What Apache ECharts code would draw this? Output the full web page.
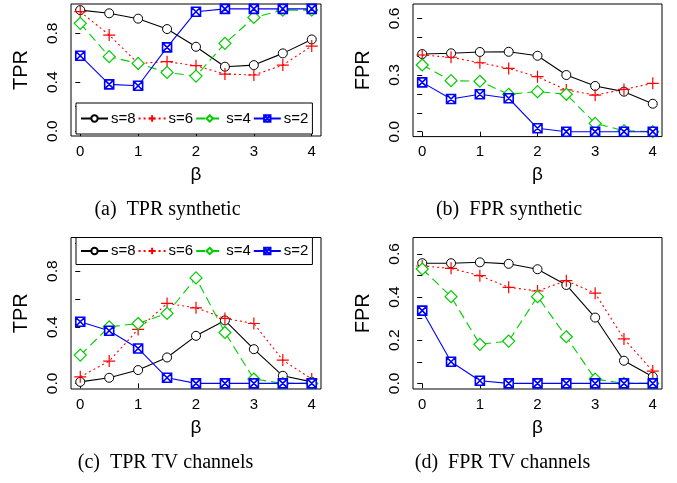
<!DOCTYPE html>
<html>
<head>
<meta charset="utf-8">
<script src="https://cdn.jsdelivr.net/npm/echarts@6/dist/echarts.min.js"></script>
<style>
html,body{margin:0;padding:0;background:#fff;}
#c{width:677px;height:483px;}
</style>
</head>
<body>
<div id="c"></div>
<script>
// ---- data ----
var betas = [0, 0.5, 1, 1.5, 2, 2.5, 3, 3.5, 4];
var seriesNames = ['s=8', 's=6', 's=4', 's=2'];
var xTicks = [0, 1, 2, 3, 4];

// (a) TPR synthetic
var tprSyn_s8 = [0.99, 0.964, 0.92, 0.835, 0.69, 0.527, 0.54, 0.636, 0.75];
var tprSyn_s6 = [0.977, 0.786, 0.554, 0.568, 0.535, 0.467, 0.459, 0.54, 0.696];
var tprSyn_s4 = [0.882, 0.609, 0.554, 0.48, 0.45, 0.718, 0.93, 0.99, 0.99];
var tprSyn_s2 = [0.617, 0.382, 0.371, 0.685, 0.977, 1.0, 1.0, 1.0, 1.0];

// (b) FPR synthetic
var fprSyn_s8 = [0.411, 0.415, 0.422, 0.423, 0.402, 0.30, 0.242, 0.212, 0.148];
var fprSyn_s6 = [0.406, 0.394, 0.365, 0.335, 0.291, 0.221, 0.194, 0.224, 0.256];
var fprSyn_s4 = [0.353, 0.27, 0.267, 0.198, 0.212, 0.198, 0.044, 0.005, 0.0];
var fprSyn_s2 = [0.261, 0.173, 0.198, 0.177, 0.018, 0.0, 0.0, 0.0, 0.0];

// (c) TPR TV channels
var tprTv_s8 = [0.011, 0.04, 0.095, 0.185, 0.339, 0.449, 0.244, 0.054, 0.011];
var tprTv_s6 = [0.047, 0.159, 0.385, 0.57, 0.539, 0.463, 0.427, 0.166, 0.031];
var tprTv_s4 = [0.202, 0.403, 0.427, 0.499, 0.752, 0.363, 0.031, 0.0, 0.0];
var tprTv_s2 = [0.439, 0.375, 0.249, 0.04, 0.0, 0.0, 0.0, 0.0, 0.0];

// (d) FPR TV channels
var fprTv_s8 = [0.557, 0.557, 0.561, 0.554, 0.529, 0.456, 0.305, 0.105, 0.031];
var fprTv_s6 = [0.544, 0.533, 0.499, 0.445, 0.428, 0.476, 0.418, 0.206, 0.057];
var fprTv_s4 = [0.530, 0.402, 0.181, 0.196, 0.402, 0.216, 0.02, 0.0, 0.0];
var fprTv_s2 = [0.337, 0.10, 0.012, 0.0, 0.0, 0.0, 0.0, 0.0, 0.0];

var tprTicks = [0, 0.2, 0.4, 0.6, 0.8, 1.0];
var tprLabels = [0, 0.4, 0.8];
var fprTicks = [0, 0.1, 0.2, 0.3, 0.4, 0.5, 0.6];
var fprLabelsB = [0, 0.3, 0.6];
var fprLabelsD = [0, 0.2, 0.4, 0.6];

var captions = ['(a)  TPR synthetic', '(b)  FPR synthetic', '(c)  TPR TV channels', '(d)  FPR TV channels'];
var yNames = ['TPR', 'FPR', 'TPR', 'FPR'];

// ---- styles ----
var SANS = 'Liberation Sans';
var styles = [
  {color: '#000000', dash: 'solid', symbol: 'path://M10,5A5,5,0,1,1,0,5A5,5,0,1,1,10,5Z', size: 9, bw: 1, fill: '#fff'},
  {color: '#ff0000', dash: [2, 3], symbol: 'path://M0,5L10,5M5,0L5,10', size: 12, bw: 1.2, fill: 'rgba(0,0,0,0)'},
  {color: '#00cd00', dash: [9, 5], symbol: 'path://M5,0L10,5L5,10L0,5Z', size: 12, bw: 1.2, fill: '#fff'},
  {color: '#0000ff', dash: 'solid', symbol: 'path://M0,0L10,0L10,10L0,10ZM0,0L10,10M10,0L0,10', size: 9, bw: 1.6, fill: '#fff'}
];

var panelData = [
  [tprSyn_s8, tprSyn_s6, tprSyn_s4, tprSyn_s2],
  [fprSyn_s8, fprSyn_s6, fprSyn_s4, fprSyn_s2],
  [tprTv_s8, tprTv_s6, tprTv_s4, tprTv_s2],
  [fprTv_s8, fprTv_s6, fprTv_s4, fprTv_s2]
];

var grids = [
  {left: 71, top: 4, width: 250, height: 132},
  {left: 413, top: 4, width: 249, height: 132.6},
  {left: 71, top: 237.5, width: 250, height: 151.5},
  {left: 413, top: 237.5, width: 249, height: 151.5}
];
var yRanges = [[-0.04, 1.04], [-0.026, 0.676], [-0.04, 1.04], [-0.026, 0.676]];
var yTickSets = [tprTicks, fprTicks, tprTicks, fprTicks];
var yLabelSets = [tprLabels, fprLabelsB, tprLabels, fprLabelsD];
var captionPos = [[167.5, 210], [509, 210], [165.5, 463], [502.5, 463]];

var option = {
  animation: false,
  backgroundColor: '#ffffff',
  textStyle: {fontFamily: SANS},
  grid: grids.map(function (g) {
    return Object.assign({show: true, borderColor: '#000', borderWidth: 1, backgroundColor: 'transparent', containLabel: false}, g);
  }),
  xAxis: grids.map(function (g, i) {
    return {
      type: 'value', gridIndex: i, min: -0.16, max: 4.16,
      axisLine: {show: false},
      splitLine: {show: false},
      axisTick: {show: true, length: 5, customValues: xTicks, lineStyle: {color: '#000', width: 1}},
      axisLabel: {customValues: xTicks, fontSize: 15, color: '#000', margin: 8, fontFamily: SANS},
      name: 'β', nameLocation: 'middle', nameGap: 29,
      nameTextStyle: {fontSize: 19, color: '#000', fontFamily: SANS}
    };
  }),
  yAxis: grids.map(function (g, i) {
    return {
      type: 'value', gridIndex: i, min: yRanges[i][0], max: yRanges[i][1],
      axisLine: {show: false},
      splitLine: {show: false},
      axisTick: {show: true, length: 5, customValues: yTickSets[i], lineStyle: {color: '#000', width: 1}},
      axisLabel: {customValues: yLabelSets[i], fontSize: 15.5, color: '#000', margin: 10, rotate: 90,
        fontFamily: SANS, formatter: function (v) { return Number(v).toFixed(1); }},
      name: yNames[i], nameLocation: 'middle', nameGap: 40, nameRotate: 90,
      nameTextStyle: {fontSize: 20, color: '#000', fontFamily: SANS}
    };
  }),
  legend: [
    {left: 76, top: 103, data: seriesNames, padding: [8, 4, 8, 4]},
    {left: 76, top: 237.5, data: seriesNames, padding: [6, 4, 6, 4]}
  ].map(function (l) {
    return Object.assign({
      orient: 'horizontal', itemWidth: 27, itemHeight: 8, itemGap: 2,
      borderColor: '#000', borderWidth: 1,
      backgroundColor: '#fff', selectedMode: false,
      textStyle: {fontSize: 15, color: '#000', fontFamily: SANS, padding: [0, 0, 0, -2]}
    }, l);
  }),
  graphic: captions.map(function (t, i) {
    return {
      type: 'text', x: captionPos[i][0], y: captionPos[i][1],
      style: {text: t, fontSize: 20, fontFamily: 'Liberation Serif', fill: '#000', align: 'center', verticalAlign: 'middle'}
    };
  }),
  series: []
};

panelData.forEach(function (pd, p) {
  pd.forEach(function (vals, k) {
    var st = styles[k];
    option.series.push({
      type: 'line', name: seriesNames[k], xAxisIndex: p, yAxisIndex: p,
      data: betas.map(function (b, j) { return [b, vals[j]]; }),
      symbol: st.symbol, symbolSize: st.size, showAllSymbol: true,
      lineStyle: {color: st.color, width: 1.1, type: st.dash},
      itemStyle: {color: st.fill, borderColor: st.color, borderWidth: st.bw},
      emphasis: {disabled: true},
      clip: false,
      z: 2 + k
    });
  });
});

var chart = echarts.init(document.getElementById('c'), null, {renderer: 'canvas'});
chart.setOption(option);
</script>
</body>
</html>
